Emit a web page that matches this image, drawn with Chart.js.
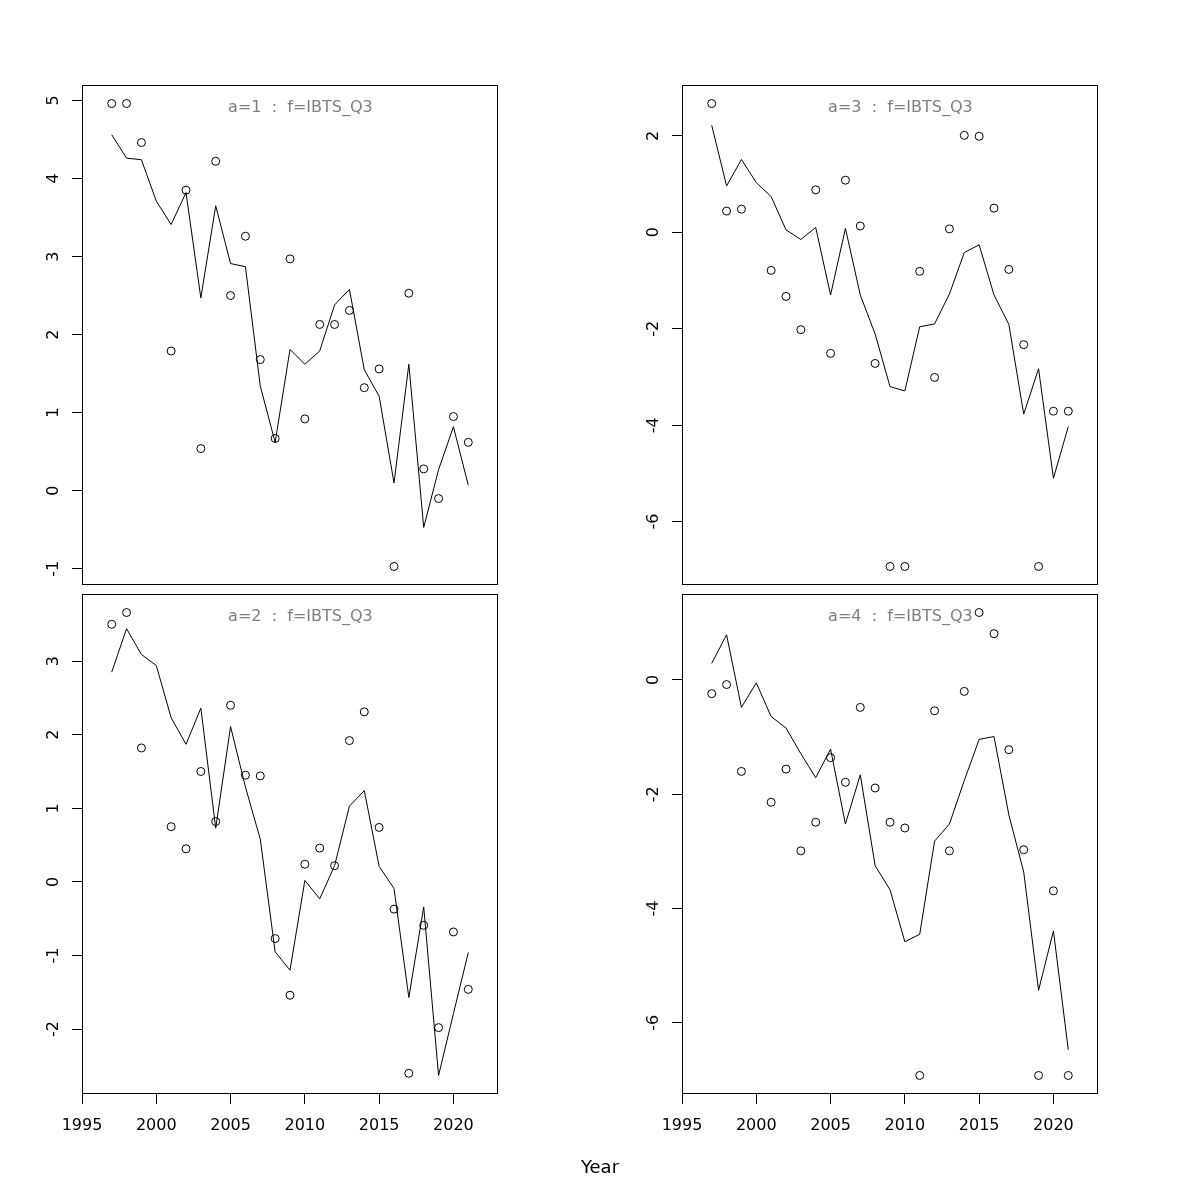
<!DOCTYPE html>
<html lang="en">

<head>
    <meta charset="UTF-8">
    <title>IBTS_Q3 fits</title>
    <style>
        * {
            box-sizing: border-box;
            margin: 0;
            padding: 0;
        }

        html,
        body {
            width: 1200px;
            height: 1200px;
            background: #ffffff;
        }

        .page {
            position: relative;
            width: 1200px;
            height: 1200px;
        }

        canvas {
            position: absolute;
        }

        #xlab {
            position: absolute;
            left: 0;
            top: 1156px;
            width: 1200px;
            text-align: center;
            font-family: 'DejaVu Sans';
            font-size: 18px;
            color: #000;
        }
    </style>
</head>

<body>
    <div class="page">
        <canvas id="p1" width="600" height="594" style="left:0;top:0"></canvas>
        <canvas id="p3" width="600" height="594" style="left:600px;top:0"></canvas>
        <canvas id="p2" width="600" height="606" style="left:0;top:594px"></canvas>
        <canvas id="p4" width="600" height="606" style="left:600px;top:594px"></canvas>
        <div id="xlab">Year</div>
    </div>

    <script src="https://cdn.jsdelivr.net/npm/chart.js@4.4.1/dist/chart.umd.min.js"></script>
    <script>
        // years and x axis
        const years = [1997, 1998, 1999, 2000, 2001, 2002, 2003, 2004, 2005, 2006, 2007, 2008, 2009,
            2010, 2011, 2012, 2013, 2014, 2015, 2016, 2017, 2018, 2019, 2020, 2021];
        const yearTicks = [1995, 2000, 2005, 2010, 2015, 2020];
        const xMin = 1995, xMax = 2023;

        // age 1
        const obs1 = [4.96, 4.96, 4.46, null, 1.79, 3.85, 0.54, 4.22, 2.50, 3.26, 1.68, 0.67, 2.97,
            0.92, 2.13, 2.13, 2.31, 1.32, 1.56, -0.97, 2.53, 0.28, -0.10, 0.95, 0.62];
        const fit1 = [4.56, 4.26, 4.24, 3.71, 3.41, 3.82, 2.47, 3.65, 2.91, 2.87, 1.34, 0.62, 1.81,
            1.62, 1.79, 2.38, 2.58, 1.55, 1.21, 0.10, 1.62, -0.47, 0.27, 0.82, 0.07];
        const ticks1 = [-1, 0, 1, 2, 3, 4, 5];

        // age 2
        const obs2 = [3.50, 3.66, 1.82, null, 0.75, 0.45, 1.50, 0.82, 2.40, 1.45, 1.44, -0.77, -1.54,
            0.24, 0.46, 0.22, 1.92, 2.31, 0.74, -0.37, -2.60, -0.59, -1.98, -0.68, -1.46];
        const fit2 = [2.85, 3.44, 3.09, 2.94, 2.23, 1.87, 2.36, 0.73, 2.11, 1.29, 0.58, -0.95, -1.20,
            0.02, -0.23, 0.22, 1.03, 1.24, 0.21, -0.09, -1.57, -0.34, -2.63, -1.79, -0.96];
        const ticks2 = [-2, -1, 0, 1, 2, 3];

        // age 3
        const obs3 = [2.67, 0.44, 0.48, null, -0.79, -1.33, -2.02, 0.88, -2.51, 1.08, 0.13, -2.72, -6.93,
            -6.93, -0.81, -3.01, 0.07, 2.01, 1.99, 0.50, -0.77, -2.33, -6.93, -3.71, -3.71];
        const fit3 = [2.22, 0.96, 1.51, 1.03, 0.74, 0.05, -0.15, 0.10, -1.30, 0.08, -1.30, -2.11, -3.20,
            -3.29, -1.96, -1.90, -1.28, -0.42, -0.26, -1.30, -1.91, -3.77, -2.83, -5.10, -4.03];
        const ticks3 = [-6, -4, -2, 0, 2];

        // age 4
        const obs4 = [-0.24, -0.08, -1.60, null, -2.14, -1.56, -2.99, -2.49, -1.36, -1.79, -0.48, -1.89, -2.49,
            -2.59, -6.92, -0.54, -2.99, -0.20, 1.18, 0.81, -1.22, -2.97, -6.92, -3.69, -6.92];
        const fit4 = [0.29, 0.79, -0.48, -0.05, -0.64, -0.84, -1.29, -1.71, -1.21, -2.52, -1.66, -3.25, -3.67,
            -4.58, -4.45, -2.82, -2.52, -1.76, -1.04, -0.99, -2.36, -3.36, -5.43, -4.39, -6.47];
        const ticks4 = [-6, -4, -2, 0];

        const titles = ['a=1  :  f=IBTS_Q3', 'a=2  :  f=IBTS_Q3', 'a=3  :  f=IBTS_Q3', 'a=4  :  f=IBTS_Q3'];

        const FONT = 'DejaVu Sans';

        function toPoints(vals) {
            let pts = [];
            vals.forEach((v, i) => {
                if (v !== null) pts.push({ x: years[i], y: v });
            });
            return pts;
        }

        // R style axis range: data range stretched by 4% each side
        function rRange(a, b) {
            let all = a.concat(b).filter(v => v !== null);
            let lo = Math.min(...all), hi = Math.max(...all);
            let pad = (hi - lo) * 0.04;
            return [lo - pad, hi + pad];
        }

        // box, rotated y labels and panel title
        const panelDeco = {
            id: 'panelDeco',
            afterDraw(chart, args, opts) {
                const ctx = chart.ctx;
                const a = chart.chartArea;
                const ys = chart.scales.y;
                ctx.save();
                ctx.strokeStyle = '#000';
                ctx.lineWidth = 1;
                ctx.strokeRect(Math.round(a.left) + 0.5, Math.round(a.top) + 0.5,
                    Math.round(a.right - a.left) - 1, Math.round(a.bottom - a.top) - 1);

                ctx.fillStyle = '#000';
                ctx.font = '16px "' + FONT + '"';
                ctx.textAlign = 'center';
                ctx.textBaseline = 'alphabetic';
                ys.ticks.forEach(t => {
                    let py = ys.getPixelForValue(t.value);
                    ctx.save();
                    ctx.translate(a.left - 24, py);
                    ctx.rotate(-Math.PI / 2);
                    ctx.fillText(String(t.value), 0, 0);
                    ctx.restore();
                });

                ctx.fillStyle = '#7f7f7f';
                ctx.fillText(opts.title, a.left + (a.right - a.left) * 0.525, a.top + 27);
                ctx.restore();
            }
        };

        function makePanel(id, fit, obs, yTicks, title, bottomRow) {
            let yr = rRange(fit, obs);
            let cfg = {
                type: 'scatter',
                data: {
                    datasets: [{
                        data: toPoints(fit),
                        showLine: true,
                        borderColor: '#000',
                        borderWidth: 1,
                        pointRadius: 0,
                        tension: 0
                    }, {
                        data: toPoints(obs),
                        showLine: false,
                        pointStyle: 'circle',
                        pointRadius: 4,
                        pointBorderWidth: 1,
                        borderColor: '#000',
                        backgroundColor: 'rgba(0,0,0,0)'
                    }]
                },
                options: {
                    responsive: false,
                    animation: false,
                    devicePixelRatio: 1,
                    layout: {
                        autoPadding: false,
                        padding: { top: bottomRow ? 0 : 85, right: 102, left: 0, bottom: 0 }
                    },
                    plugins: {
                        legend: { display: false },
                        tooltip: { enabled: false },
                        panelDeco: { title: title }
                    },
                    scales: {
                        x: {
                            type: 'linear',
                            min: xMin,
                            max: xMax,
                            afterBuildTicks: s => { s.ticks = yearTicks.map(v => ({ value: v })); },
                            afterFit: s => { s.height = bottomRow ? 106 : 9; },
                            border: { display: false },
                            grid: {
                                display: bottomRow,
                                drawOnChartArea: false,
                                drawTicks: true,
                                tickLength: 10,
                                color: '#000',
                                lineWidth: 1
                            },
                            ticks: {
                                display: bottomRow,
                                autoSkip: false,
                                maxRotation: 0,
                                padding: 12,
                                color: '#000',
                                font: { family: FONT, size: 16 },
                                callback: v => String(v)
                            }
                        },
                        y: {
                            type: 'linear',
                            min: yr[0],
                            max: yr[1],
                            afterBuildTicks: s => { s.ticks = yTicks.map(v => ({ value: v })); },
                            afterFit: s => { s.width = 82; },
                            border: { display: false },
                            grid: {
                                drawOnChartArea: false,
                                drawTicks: true,
                                tickLength: 10,
                                color: '#000',
                                lineWidth: 1
                            },
                            ticks: { display: false }
                        }
                    }
                },
                plugins: [panelDeco]
            };
            return new Chart(document.getElementById(id), cfg);
        }

        makePanel('p1', fit1, obs1, ticks1, titles[0], false);
        makePanel('p2', fit2, obs2, ticks2, titles[1], true);
        makePanel('p3', fit3, obs3, ticks3, titles[2], false);
        makePanel('p4', fit4, obs4, ticks4, titles[3], true);
    </script>
</body>

</html>
